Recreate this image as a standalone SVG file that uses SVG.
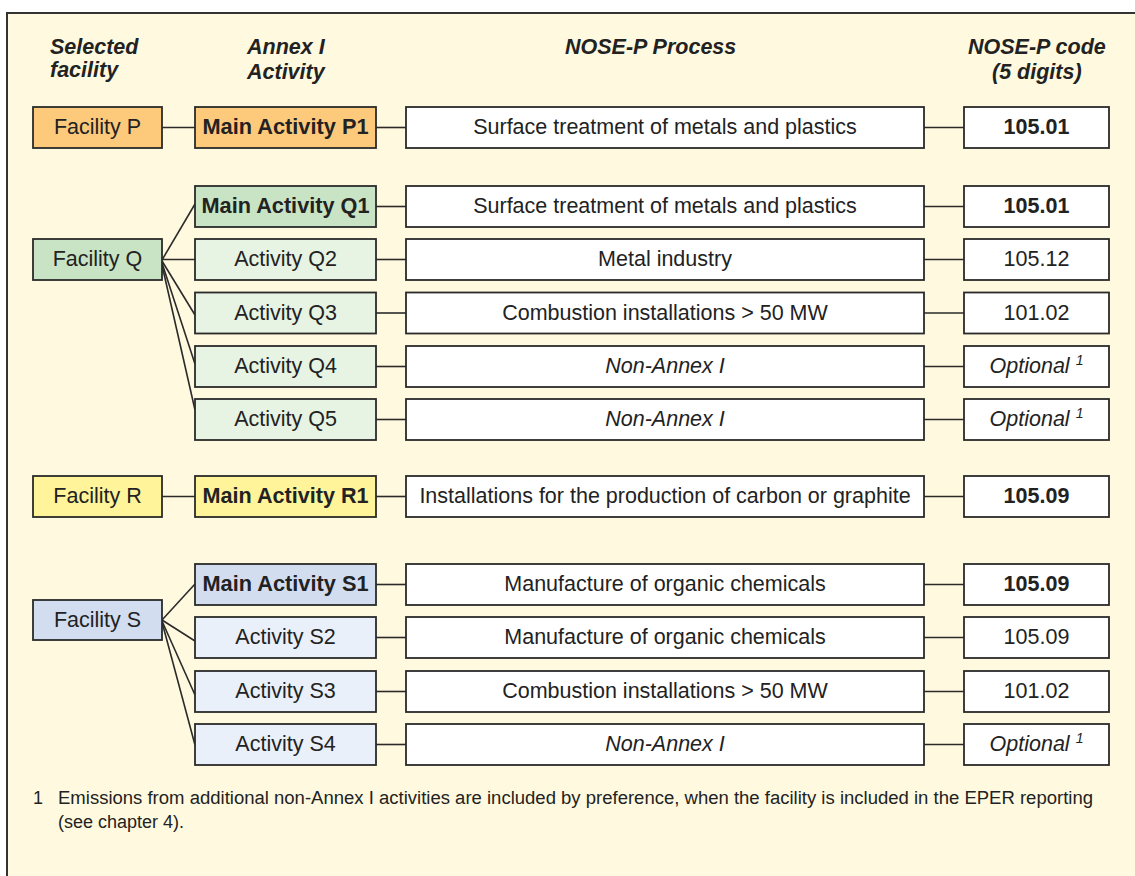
<svg xmlns="http://www.w3.org/2000/svg" width="1135" height="876" viewBox="0 0 1135 876">
<style>
text{font-family:"Liberation Sans",Arial,sans-serif;fill:#222;}
.h{font-size:21.5px;font-weight:bold;font-style:italic;}
.t{font-size:21.5px;text-anchor:middle;}
.b{font-weight:bold;}
.i{font-style:italic;}
.box{stroke:#2a2a2a;stroke-width:1.8;}
.w{fill:#fff;}
.po{fill:#FDCA7C;}
.qd{fill:#C9E4C4;}
.ql{fill:#E7F3E3;}
.ry{fill:#FFF499;}
.sd{fill:#D2DEF0;}
.sl{fill:#EAF0F9;}
.c line{stroke:#2a2a2a;stroke-width:1.6;}
.fn{font-size:18px;}
</style>
<rect x="0" y="0" width="1135" height="876" fill="#fff"/>
<rect x="7" y="13" width="1140" height="880" fill="#FFFADF" stroke="#333" stroke-width="2"/>
<g id="headers">
<text class="h" x="50" y="54">Selected</text>
<text class="h" x="50" y="77">facility</text>
<text class="h" x="247" y="54">Annex I</text>
<text class="h" x="247" y="79">Activity</text>
<text class="h" x="565" y="54">NOSE-P Process</text>
<text class="h" x="968" y="54">NOSE-P code</text>
<text class="h" x="992" y="79">(5 digits)</text>
</g>
<g class="c" id="connectors">
<line x1="162" y1="127.5" x2="195" y2="127.5"/>
<line x1="376" y1="127.5" x2="406" y2="127.5"/>
<line x1="924" y1="127.5" x2="964" y2="127.5"/>
<line x1="162" y1="260" x2="195" y2="204"/>
<line x1="162" y1="259.5" x2="195" y2="259.5"/>
<line x1="162" y1="261" x2="195" y2="315"/>
<line x1="162" y1="263" x2="195" y2="364"/>
<line x1="162" y1="265" x2="195" y2="410"/>
<line x1="376" y1="206.5" x2="406" y2="206.5"/>
<line x1="924" y1="206.5" x2="964" y2="206.5"/>
<line x1="376" y1="259.5" x2="406" y2="259.5"/>
<line x1="924" y1="259.5" x2="964" y2="259.5"/>
<line x1="376" y1="313" x2="406" y2="313"/>
<line x1="924" y1="313" x2="964" y2="313"/>
<line x1="376" y1="366.5" x2="406" y2="366.5"/>
<line x1="924" y1="366.5" x2="964" y2="366.5"/>
<line x1="376" y1="419.5" x2="406" y2="419.5"/>
<line x1="924" y1="419.5" x2="964" y2="419.5"/>
<line x1="162" y1="496.5" x2="195" y2="496.5"/>
<line x1="376" y1="496.5" x2="406" y2="496.5"/>
<line x1="924" y1="496.5" x2="964" y2="496.5"/>
<line x1="162" y1="620" x2="195" y2="584"/>
<line x1="162" y1="620" x2="195" y2="641"/>
<line x1="162" y1="621" x2="195" y2="695"/>
<line x1="162" y1="622" x2="195" y2="745"/>
<line x1="376" y1="584.5" x2="406" y2="584.5"/>
<line x1="924" y1="584.5" x2="964" y2="584.5"/>
<line x1="376" y1="637.5" x2="406" y2="637.5"/>
<line x1="924" y1="637.5" x2="964" y2="637.5"/>
<line x1="376" y1="691.5" x2="406" y2="691.5"/>
<line x1="924" y1="691.5" x2="964" y2="691.5"/>
<line x1="376" y1="744.5" x2="406" y2="744.5"/>
<line x1="924" y1="744.5" x2="964" y2="744.5"/>
</g>
<!-- Facility P -->
<g id="facP"><rect class="box po" x="33" y="107" width="129" height="41"/><text class="t" x="97.5" y="134">Facility P</text></g>
<g id="actP1"><rect class="box po" x="195" y="107" width="181" height="41"/><text class="t b" x="285.5" y="134" textLength="166" lengthAdjust="spacingAndGlyphs">Main Activity P1</text></g>
<g id="procP1"><rect class="box w" x="406" y="107" width="518" height="41"/><text class="t" x="665" y="134">Surface treatment of metals and plastics</text></g>
<g id="codeP1"><rect class="box w" x="964" y="107" width="145" height="41"/><text class="t b" x="1036.5" y="134">105.01</text></g>
<!-- Facility Q -->
<g id="facQ"><rect class="box qd" x="33" y="239" width="129" height="41"/><text class="t" x="97.5" y="266">Facility Q</text></g>
<g id="actQ1"><rect class="box qd" x="195" y="186" width="181" height="41"/><text class="t b" x="285.5" y="213" textLength="168" lengthAdjust="spacingAndGlyphs">Main Activity Q1</text></g>
<g id="procQ1"><rect class="box w" x="406" y="186" width="518" height="41"/><text class="t" x="665" y="213">Surface treatment of metals and plastics</text></g>
<g id="codeQ1"><rect class="box w" x="964" y="186" width="145" height="41"/><text class="t b" x="1036.5" y="213">105.01</text></g>
<g id="actQ2"><rect class="box ql" x="195" y="239" width="181" height="41"/><text class="t" x="285.5" y="266">Activity Q2</text></g>
<g id="procQ2"><rect class="box w" x="406" y="239" width="518" height="41"/><text class="t" x="665" y="266">Metal industry</text></g>
<g id="codeQ2"><rect class="box w" x="964" y="239" width="145" height="41"/><text class="t" x="1036.5" y="266">105.12</text></g>
<g id="actQ3"><rect class="box ql" x="195" y="292.5" width="181" height="41"/><text class="t" x="285.5" y="319.5">Activity Q3</text></g>
<g id="procQ3"><rect class="box w" x="406" y="292.5" width="518" height="41"/><text class="t" x="665" y="319.5">Combustion installations &gt; 50 MW</text></g>
<g id="codeQ3"><rect class="box w" x="964" y="292.5" width="145" height="41"/><text class="t" x="1036.5" y="319.5">101.02</text></g>
<g id="actQ4"><rect class="box ql" x="195" y="346" width="181" height="41"/><text class="t" x="285.5" y="373">Activity Q4</text></g>
<g id="procQ4"><rect class="box w" x="406" y="346" width="518" height="41"/><text class="t i" x="665" y="373">Non-Annex I</text></g>
<g id="codeQ4"><rect class="box w" x="964" y="346" width="145" height="41"/><text class="t i" x="1036.5" y="373">Optional <tspan font-size="14" dy="-8">1</tspan></text></g>
<g id="actQ5"><rect class="box ql" x="195" y="399" width="181" height="41"/><text class="t" x="285.5" y="426">Activity Q5</text></g>
<g id="procQ5"><rect class="box w" x="406" y="399" width="518" height="41"/><text class="t i" x="665" y="426">Non-Annex I</text></g>
<g id="codeQ5"><rect class="box w" x="964" y="399" width="145" height="41"/><text class="t i" x="1036.5" y="426">Optional <tspan font-size="14" dy="-8">1</tspan></text></g>
<!-- Facility R -->
<g id="facR"><rect class="box ry" x="33" y="476" width="129" height="41"/><text class="t" x="97.5" y="503">Facility R</text></g>
<g id="actR1"><rect class="box ry" x="195" y="476" width="181" height="41"/><text class="t b" x="285.5" y="503" textLength="166" lengthAdjust="spacingAndGlyphs">Main Activity R1</text></g>
<g id="procR1"><rect class="box w" x="406" y="476" width="518" height="41"/><text class="t" x="665" y="503">Installations for the production of carbon or graphite</text></g>
<g id="codeR1"><rect class="box w" x="964" y="476" width="145" height="41"/><text class="t b" x="1036.5" y="503">105.09</text></g>
<!-- Facility S -->
<g id="facS"><rect class="box sd" x="33" y="600" width="129" height="40"/><text class="t" x="97.5" y="627">Facility S</text></g>
<g id="actS1"><rect class="box sd" x="195" y="564" width="181" height="41"/><text class="t b" x="285.5" y="591" textLength="166" lengthAdjust="spacingAndGlyphs">Main Activity S1</text></g>
<g id="procS1"><rect class="box w" x="406" y="564" width="518" height="41"/><text class="t" x="665" y="591">Manufacture of organic chemicals</text></g>
<g id="codeS1"><rect class="box w" x="964" y="564" width="145" height="41"/><text class="t b" x="1036.5" y="591">105.09</text></g>
<g id="actS2"><rect class="box sl" x="195" y="617" width="181" height="41"/><text class="t" x="285.5" y="644">Activity S2</text></g>
<g id="procS2"><rect class="box w" x="406" y="617" width="518" height="41"/><text class="t" x="665" y="644">Manufacture of organic chemicals</text></g>
<g id="codeS2"><rect class="box w" x="964" y="617" width="145" height="41"/><text class="t" x="1036.5" y="644">105.09</text></g>
<g id="actS3"><rect class="box sl" x="195" y="671" width="181" height="41"/><text class="t" x="285.5" y="698">Activity S3</text></g>
<g id="procS3"><rect class="box w" x="406" y="671" width="518" height="41"/><text class="t" x="665" y="698">Combustion installations &gt; 50 MW</text></g>
<g id="codeS3"><rect class="box w" x="964" y="671" width="145" height="41"/><text class="t" x="1036.5" y="698">101.02</text></g>
<g id="actS4"><rect class="box sl" x="195" y="724" width="181" height="41"/><text class="t" x="285.5" y="751">Activity S4</text></g>
<g id="procS4"><rect class="box w" x="406" y="724" width="518" height="41"/><text class="t i" x="665" y="751">Non-Annex I</text></g>
<g id="codeS4"><rect class="box w" x="964" y="724" width="145" height="41"/><text class="t i" x="1036.5" y="751">Optional <tspan font-size="14" dy="-8">1</tspan></text></g>
<g id="footnote">
<text class="fn" x="33" y="804">1</text>
<text class="fn" x="58" y="804" textLength="1035" lengthAdjust="spacingAndGlyphs">Emissions from additional non-Annex I activities are included by preference, when the facility is included in the EPER reporting</text>
<text class="fn" x="58" y="828">(see chapter 4).</text>
</g>
</svg>
